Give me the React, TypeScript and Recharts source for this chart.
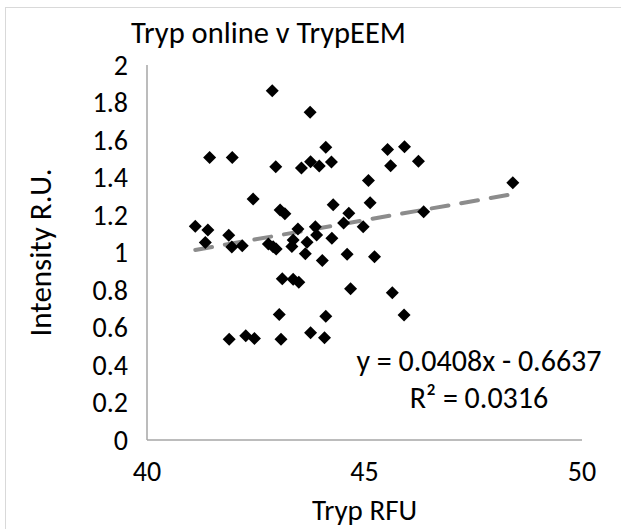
import React from 'react';
import { ReferenceLine, Scatter, ScatterChart, XAxis, YAxis } from 'recharts';

// Tryp RFU (x) against intensity R.U. (y)
const trypRfu = [
  42.88, 43.75, 41.44, 41.96, 42.96, 43.55, 43.76, 43.96, 44.11, 44.24,
  45.09, 45.13, 42.44, 43.06, 43.17, 44.28, 44.64, 44.52, 44.97, 41.11,
  41.4, 41.88, 41.34, 43.47, 43.87, 44.25, 43.68, 43.36, 45.53, 45.92,
  45.6, 46.24, 48.41, 46.36, 41.95, 42.19, 42.79, 42.9, 42.97, 43.33,
  43.64, 44.03, 44.6, 45.23, 43.11, 43.36, 43.49, 44.68, 45.64, 43.04,
  44.11, 45.91, 41.89, 42.27, 42.47, 43.08, 43.76, 44.08, 43.9,
];
const intensity = [
  1.863, 1.748, 1.507, 1.507, 1.458, 1.451, 1.484, 1.461, 1.561, 1.483,
  1.384, 1.266, 1.285, 1.227, 1.207, 1.255, 1.209, 1.157, 1.138, 1.14,
  1.12, 1.092, 1.054, 1.126, 1.138, 1.076, 1.055, 1.067, 1.55, 1.564,
  1.463, 1.487, 1.372, 1.217, 1.029, 1.036, 1.045, 1.031, 1.019, 1.032,
  0.994, 0.957, 0.991, 0.978, 0.86, 0.857, 0.841, 0.807, 0.786, 0.669,
  0.66, 0.667, 0.538, 0.556, 0.542, 0.537, 0.572, 0.546, 1.093,
];

const xTicks = [40, 45, 50];
const yTicks = [0, 0.2, 0.4, 0.6, 0.8, 1, 1.2, 1.4, 1.6, 1.8, 2];

// linear trendline as printed on the chart
const slope = 0.0408;
const intercept = -0.6637;
const equationText = 'y = 0.0408x - 0.6637';
const r2Text = 'R² = 0.0316';

const data = trypRfu.map((x, i) => ({ x, y: intensity[i] }));
const xMin = Math.min(...trypRfu);
const xMax = Math.max(...trypRfu);
const trend = [
  { x: xMin, y: slope * xMin + intercept },
  { x: xMax, y: slope * xMax + intercept },
];

const FONT = 'Calibri, Carlito, Lato, sans-serif';

const Diamond = (props: any) => {
  const { cx, cy } = props;
  const r = 6.5;
  return (
    <polygon
      points={`${cx},${cy - r} ${cx + r},${cy} ${cx},${cy + r} ${cx - r},${cy}`}
      fill="#000"
    />
  );
};

export default function App() {
  return (
    <div style={{ position: 'absolute', left: 0, top: 0, width: 621, height: 529, overflow: 'hidden', background: '#fff', fontFamily: FONT }}>
      <div style={{ position: 'absolute', left: 5, top: 7, width: 640, height: 560, border: '1px solid #d9d9d9' }} />
      <ScatterChart
        width={621}
        height={529}
        margin={{ top: 65, right: 39, left: 0, bottom: 0 }}
        style={{ position: 'absolute', left: 0, top: 0 }}
      >
        <XAxis
          type="number"
          dataKey="x"
          domain={[40, 50]}
          ticks={xTicks}
          height={89}
          tickLine={false}
          tickSize={0}
          tickMargin={21}
          axisLine={{ stroke: '#a6a6a6', strokeWidth: 1.5 }}
          tick={{ fill: '#000', fontSize: 28, fontFamily: FONT }}
          label={{ value: 'Tryp RFU', position: 'insideBottom', offset: 9, fill: '#000', fontSize: 29, fontFamily: FONT }}
        />
        <YAxis
          type="number"
          dataKey="y"
          domain={[0, 2]}
          ticks={yTicks}
          width={147}
          tickLine={false}
          tickSize={0}
          tickMargin={19}
          axisLine={{ stroke: '#a6a6a6', strokeWidth: 1.5 }}
          tick={{ fill: '#000', fontSize: 28, fontFamily: FONT }}
          label={{ value: 'Intensity R.U.', angle: -90, position: 'insideLeft', offset: 40, fill: '#000', fontSize: 31, fontFamily: FONT, style: { textAnchor: 'middle' } }}
        />
        <Scatter data={data} fill="#000" shape={Diamond} isAnimationActive={false} />
        <ReferenceLine
          segment={trend}
          stroke="#8c8c8c"
          strokeWidth={4}
          strokeDasharray="17 13"
          strokeLinecap="round"
        />
      </ScatterChart>
      <div style={{ position: 'absolute', left: 0, width: 537, top: 16, textAlign: 'center', fontSize: 30.5, lineHeight: '34px', color: '#000' }}>
        Tryp online v TrypEEM
      </div>
      <div style={{ position: 'absolute', left: 379, width: 200, top: 342, textAlign: 'center', fontSize: 30, lineHeight: '37px', color: '#000', whiteSpace: 'nowrap' }}>
        <div style={{ marginLeft: -60, marginRight: -60 }}>{equationText}</div>
        <div>{r2Text}</div>
      </div>
    </div>
  );
}
